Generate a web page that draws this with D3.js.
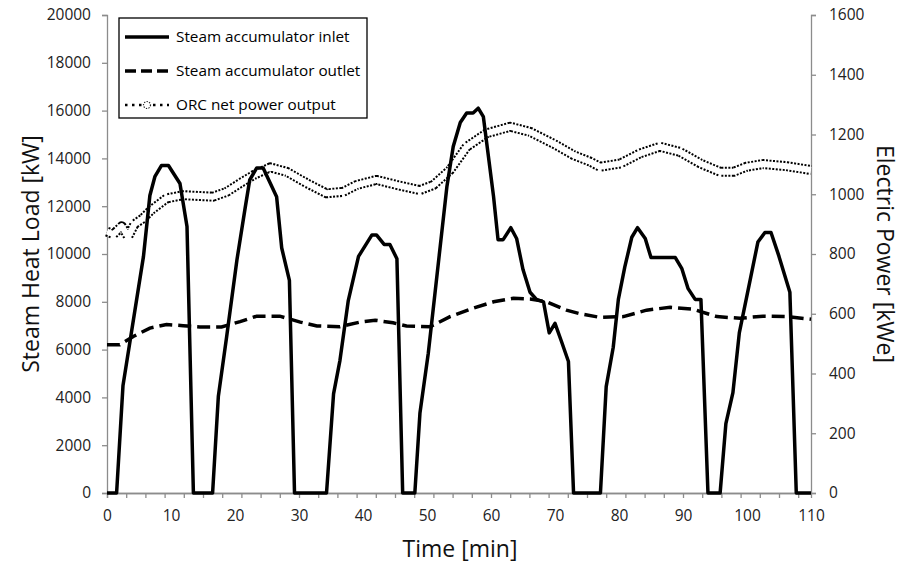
<!DOCTYPE html>
<html lang="en">
<head>
<meta charset="UTF-8">
<title>Steam accumulator</title>
<script src="https://d3js.org/d3.v7.min.js"></script>
<style>
  body { margin: 0; background: #fff; font-family: "Open Sans", sans-serif; }
  .tick text { font-family: "Open Sans", sans-serif; font-size: 15.5px; fill: #222; }
  .axis-title { font-family: "Open Sans", sans-serif; font-size: 23px; fill: #111; }
  .legend text { font-family: "Open Sans", sans-serif; font-size: 15.3px; fill: #000; }
</style>
</head>
<body>
<svg id="chart" width="903" height="564"></svg>
<script>
// steam accumulator inlet [kW]
const inletTime = [0, 1.5, 2.5, 5.7, 6.7, 7.5, 8.5, 9.6, 11.4, 12.5, 13.5, 16.5, 17.4, 18.7, 20.3, 21.6, 22.3, 23.4, 24.4, 26.5, 27.3, 28.5, 29.3,
  34.3, 35.4, 36.4, 37.7, 39.3, 41.4, 42.1, 43.3, 44.2, 45.3, 46.2, 48.1, 48.9, 50.2, 53.1, 54.1, 55.2, 56.2, 57.2, 58.0, 58.8,
  60.4, 61.1, 61.9, 63.1, 64.0, 65.0, 66.1, 67.1, 68.2, 69.1, 70.0, 71.0, 72.1, 72.9, 77.1, 78.0, 79.1, 79.9, 80.9, 82.0, 82.9,
  84.1, 85.0, 88.8, 89.8, 90.8, 91.9, 92.8, 93.9, 95.8, 96.7, 97.8, 98.8, 100.6, 101.7, 102.8, 103.75, 105, 106.7, 107.7, 110];
const inletLoad = [0, 0, 4500, 9900, 12450, 13250, 13700, 13700, 12950, 11150, 0, 0, 4050, 6550, 9750, 11950, 13100, 13600, 13600, 12400, 10250, 8900, 0,
  0, 4150, 5550, 8050, 9900, 10800, 10800, 10400, 10400, 9800, 0, 0, 3350, 5850, 12800, 14500, 15500, 15900, 15900, 16100, 15750,
  12400, 10600, 10600, 11100, 10650, 9350, 8400, 8100, 8000, 6700, 7100, 6350, 5500, 0, 0, 4450, 6100, 8100, 9450, 10700, 11100,
  10650, 9850, 9850, 9400, 8550, 8100, 8100, 0, 0, 2900, 4200, 6700, 9050, 10500, 10900, 10900, 9900, 8400, 0, 0];

// steam accumulator outlet [kW]
const outletTime = [0, 2, 4.1, 6.7, 9.3, 11.9, 14.5, 17.9, 20.8, 23.4, 27, 30.2, 32.8, 36.4, 39.5, 41.9, 44.7, 46.8, 50.5,
  53.6, 57.2, 60.4, 63.5, 66.1, 68.7, 71.8, 73.9, 77, 80.7, 84.3, 88, 91.6, 95.3, 98.9, 102.5, 106.2, 110];
const outletLoad = [6200, 6200, 6550, 6900, 7050, 7000, 6950, 6950, 7170, 7400, 7400, 7150, 6990, 6960, 7150, 7230, 7120, 6990, 6960,
  7380, 7730, 8000, 8150, 8120, 8000, 7650, 7500, 7350, 7380, 7650, 7770, 7690, 7380, 7310, 7400, 7380, 7270];

// ORC net power output [kWe], right axis
const orcTime = [0, 1, 2.3, 3.3, 4.3, 5.6, 6.9, 9.3, 11.9, 14.5, 16.6, 18.7, 20.8, 22.9, 25.5, 28.1, 31.2, 34.3, 36.9, 39.0,
  42.1, 45.3, 48.9, 51, 53.6, 56.2, 59.3, 63, 66.1, 69.7, 72.9, 75.5, 77, 80.2, 83.3, 86.4, 89.5, 92.7, 95.8, 97.9, 99.9,
  102.5, 106.2, 110];
const orcPower = [875, 866, 893, 858, 900, 919, 947, 986, 997, 994, 992, 1008, 1037, 1064, 1090, 1075, 1037, 1003, 1008, 1031,
  1048, 1031, 1014, 1031, 1081, 1159, 1204, 1226, 1209, 1170, 1131, 1109, 1092, 1103, 1137, 1159, 1142, 1103, 1075, 1075, 1092,
  1101, 1094, 1081];

const xTicks = d3.range(0, 111, 10);
const xMinorTicks = d3.range(0, 111, 3);
const leftTicks = d3.range(0, 20001, 2000);
const rightTicks = d3.range(0, 1601, 200);
const seriesNames = ["Steam accumulator inlet", "Steam accumulator outlet", "ORC net power output"];

const svg = d3.select("#chart");
const plot = { left: 107, right: 811, top: 15, bottom: 493 };
const axisColor = "#8c8c8c";

const x = d3.scaleLinear().domain([0, 110]).range([plot.left, plot.right]);
const yL = d3.scaleLinear().domain([0, 20000]).range([plot.bottom, plot.top]);
const yR = d3.scaleLinear().domain([0, 1600]).range([plot.bottom, plot.top]);

// axes
const xAxisMinor = svg.append("g")
  .attr("transform", `translate(0,${plot.bottom})`)
  .call(d3.axisBottom(x).tickValues(xMinorTicks).tickSize(5).tickFormat(""));
const xAxis = svg.append("g")
  .attr("transform", `translate(0,${plot.bottom})`)
  .call(d3.axisBottom(x).tickValues(xTicks).tickSize(0).tickPadding(17).tickFormat(d3.format("d")));
const yAxisL = svg.append("g")
  .attr("transform", `translate(${plot.left},0)`)
  .call(d3.axisLeft(yL).tickValues(leftTicks).tickSize(5).tickPadding(11).tickFormat(d3.format("d")));
const yAxisR = svg.append("g")
  .attr("transform", `translate(${plot.right},0)`)
  .call(d3.axisRight(yR).tickValues(rightTicks).tickSize(5).tickPadding(13).tickFormat(d3.format("d")));

[xAxisMinor, xAxis, yAxisL, yAxisR].forEach(g => {
  g.selectAll("path.domain").attr("stroke", axisColor).attr("stroke-width", 1.3);
  g.selectAll(".tick line").attr("stroke", axisColor).attr("stroke-width", 1.3);
});

// axis titles
svg.append("text").attr("class", "axis-title")
  .attr("x", (plot.left + plot.right) / 2 + 1).attr("y", 557)
  .attr("text-anchor", "middle").text("Time [min]");
svg.append("text").attr("class", "axis-title")
  .attr("transform", `translate(39,${(plot.top + plot.bottom) / 2}) rotate(-90)`)
  .attr("text-anchor", "middle").text("Steam Heat Load [kW]");
svg.append("text").attr("class", "axis-title")
  .attr("transform", `translate(877,${(plot.top + plot.bottom) / 2}) rotate(90)`)
  .attr("text-anchor", "middle").text("Electric Power [kWe]");

// lines
const lineL = d3.line().x(d => x(d[0])).y(d => yL(d[1]));
const lineR = d3.line().x(d => x(d[0])).y(d => yR(d[1]));

const orcData = d3.zip(orcTime, orcPower);
svg.append("path").datum(orcData)
  .attr("d", lineR).attr("fill", "none")
  .attr("stroke", "#000").attr("stroke-width", 10)
  .attr("stroke-dasharray", "2,1.5").attr("stroke-linejoin", "round");
svg.append("path").datum(orcData)
  .attr("d", lineR).attr("fill", "none")
  .attr("stroke", "#fff").attr("stroke-width", 6).attr("stroke-linejoin", "round");

svg.append("path").datum(d3.zip(outletTime, outletLoad))
  .attr("d", lineL).attr("fill", "none")
  .attr("stroke", "#000").attr("stroke-width", 3.5)
  .attr("stroke-dasharray", "13,6");

svg.append("path").datum(d3.zip(inletTime, inletLoad))
  .attr("d", lineL).attr("fill", "none")
  .attr("stroke", "#000").attr("stroke-width", 3.5).attr("stroke-linejoin", "round");

// legend
const legend = svg.append("g").attr("class", "legend");
legend.append("rect")
  .attr("x", 119).attr("y", 18).attr("width", 248).attr("height", 100)
  .attr("fill", "#fff").attr("stroke", "#000").attr("stroke-width", 1.3);
const rowsY = [37, 71, 105];
seriesNames.forEach((name, i) => {
  const row = legend.append("g").attr("transform", `translate(0,${rowsY[i]})`);
  if (i === 0) {
    row.append("line").attr("x1", 125).attr("x2", 169).attr("stroke", "#000").attr("stroke-width", 3.5);
  } else if (i === 1) {
    row.append("line").attr("x1", 125).attr("x2", 169).attr("stroke", "#000").attr("stroke-width", 3.5)
      .attr("stroke-dasharray", "11,5");
  } else {
    row.append("line").attr("x1", 125).attr("x2", 169).attr("stroke", "#000").attr("stroke-width", 2.5)
      .attr("stroke-dasharray", "2.5,4.5");
    row.append("circle").attr("cx", 147).attr("cy", 0).attr("r", 3.5)
      .attr("fill", "#fff").attr("stroke", "#222").attr("stroke-width", 1.2).attr("stroke-dasharray", "1.3,1.3");
  }
  row.append("text").attr("x", 176).attr("y", 0).attr("dy", "0.35em").text(name);
});
</script>
</body>
</html>
